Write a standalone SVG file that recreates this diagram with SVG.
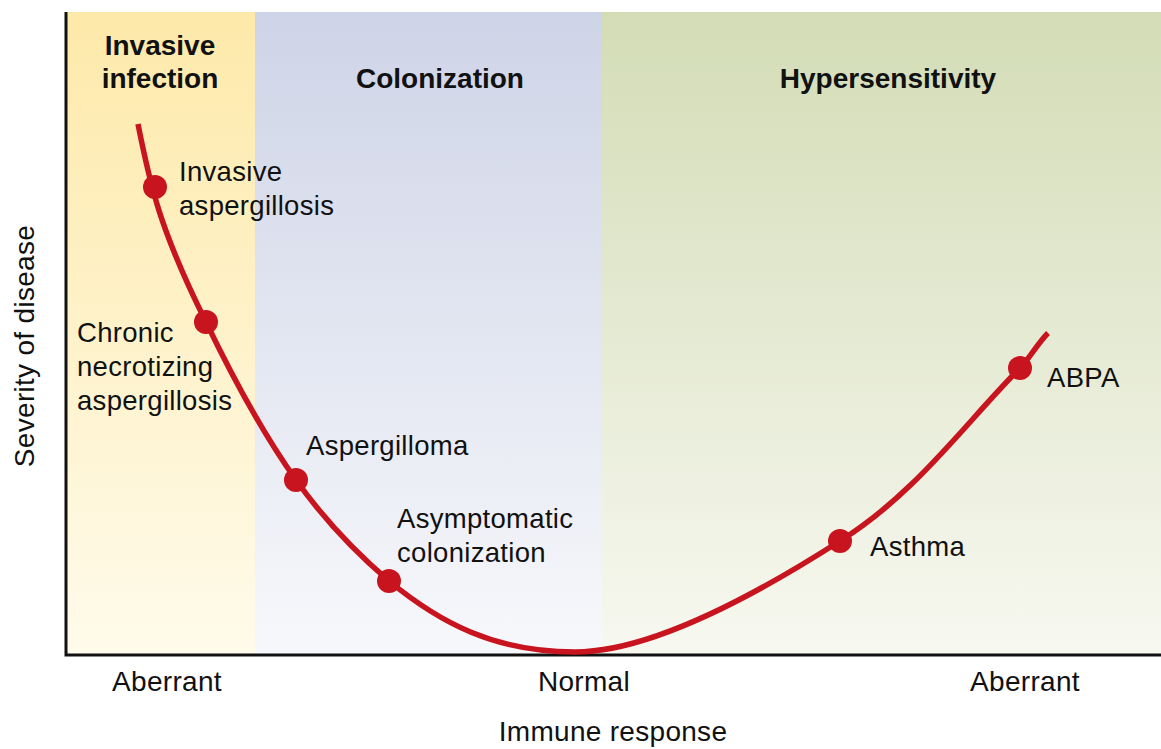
<svg xmlns="http://www.w3.org/2000/svg" width="1161" height="749" viewBox="0 0 1161 749">
<defs>
<linearGradient id="gy" x1="0" y1="0" x2="0" y2="1"><stop offset="0" stop-color="#fde9a9"/><stop offset="1" stop-color="#fffbeb"/></linearGradient>
<linearGradient id="gb" x1="0" y1="0" x2="0" y2="1"><stop offset="0" stop-color="#ced4e7"/><stop offset="1" stop-color="#f7f8fb"/></linearGradient>
<linearGradient id="gg" x1="0" y1="0" x2="0" y2="1"><stop offset="0" stop-color="#d3dcb6"/><stop offset="1" stop-color="#f7f8f0"/></linearGradient>
</defs>
<style>
text{font-family:"Liberation Sans",Arial,sans-serif;fill:#111}
.t{font-weight:bold;font-size:28px;text-anchor:middle}
.l{font-size:27.5px;letter-spacing:0.3px}
.a{font-size:28px;text-anchor:middle;letter-spacing:0.3px}
.dot{fill:#c8141f}
</style>
<rect width="1161" height="749" fill="#fff"/>
<g id="bands">
<rect x="66" y="12" width="189" height="643" fill="url(#gy)"/>
<rect x="255" y="12" width="347" height="643" fill="url(#gb)"/>
<rect x="602" y="12" width="559" height="643" fill="url(#gg)"/>
</g>
<g id="axes" stroke="#111" stroke-width="3" fill="none">
<path d="M66,12 V655 H1161"/>
</g>
<g id="titles">
<text class="t" x="160" y="55">Invasive</text>
<text class="t" x="160" y="88">infection</text>
<text class="t" x="440" y="88">Colonization</text>
<text class="t" x="888" y="88">Hypersensitivity</text>
</g>
<g id="connectors">
<path d="M138,124 C150,185 160,230 206,322 C232,376 261,431 296,480 C323,518 354,551 389,581 C440,623 495,652 575,652 C655,652 765,589 840,541 C915,494 962,427 1020,368 C1029,359 1038,343 1048,333" fill="none" stroke="#c8141f" stroke-width="5.5"/>
</g>
<g id="node-invasive"><circle class="dot" cx="155" cy="187" r="12"/><text class="l" x="179" y="181">Invasive</text><text class="l" x="179" y="215">aspergillosis</text></g>
<g id="node-chronic"><circle class="dot" cx="206" cy="322" r="12"/><text class="l" x="77" y="342">Chronic</text><text class="l" x="77" y="376">necrotizing</text><text class="l" x="77" y="410">aspergillosis</text></g>
<g id="node-aspergilloma"><circle class="dot" cx="296" cy="480" r="12"/><text class="l" x="306" y="455">Aspergilloma</text></g>
<g id="node-asymptomatic"><circle class="dot" cx="389" cy="581" r="12"/><text class="l" x="397" y="528">Asymptomatic</text><text class="l" x="397" y="562">colonization</text></g>
<g id="node-asthma"><circle class="dot" cx="840" cy="541" r="12"/><text class="l" x="870" y="556">Asthma</text></g>
<g id="node-abpa"><circle class="dot" cx="1020" cy="368" r="12"/><text class="l" x="1047" y="387">ABPA</text></g>
<g id="axis-labels">
<text class="a" x="167" y="691">Aberrant</text>
<text class="a" x="584" y="691">Normal</text>
<text class="a" x="1025" y="691">Aberrant</text>
<text class="a" x="613" y="741">Immune response</text>
<text class="a" transform="translate(34,346) rotate(-90)" x="0" y="0">Severity of disease</text>
</g>
</svg>
